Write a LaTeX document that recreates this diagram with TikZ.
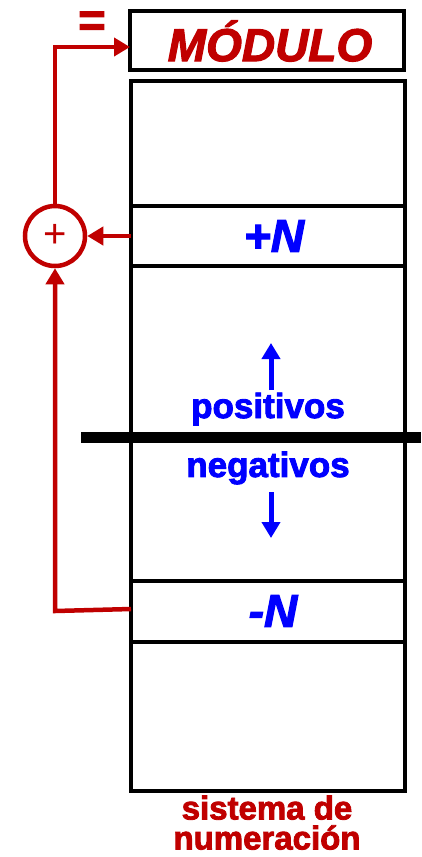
\documentclass[tikz,border=0pt]{standalone}
\usepackage{fontspec}
\setmainfont{Liberation Sans}
\newfontfamily\heavy[FakeBold=2.5]{Liberation Sans Bold}
\newfontfamily\heavyit[FakeBold=2.5]{Liberation Sans Bold Italic}
\usetikzlibrary{arrows.meta}
\definecolor{myred}{HTML}{C00000}
\definecolor{myblue}{HTML}{0000FF}
\begin{document}
\begin{tikzpicture}[x=1pt,y=-1pt,
  box/.style={draw=black,line width=4.6pt},
  redline/.style={draw=myred,line width=4.5pt,line join=miter},
  redarrow/.style={redline,-{Triangle[length=16pt,width=18pt]}},
  bluearrow/.style={draw=myblue,line width=5pt,-{Triangle[length=16pt,width=18pt]}},
  lbl/.style={font=\heavyit\fontsize{46}{46}\selectfont,inner sep=0pt},
  btxt/.style={font=\heavy\fontsize{35}{35}\selectfont,text=myblue,inner sep=0pt}]
\useasboundingbox (0,0) rectangle (421,857);
\fill[white] (0,0) rectangle (421,857);
% module box
\draw[box] (130,11) rectangle (404,70);
\node[lbl,text=myred] (mod) at (270,41) {MÓDULO};
\coordinate (modin) at (130,47);
% main box
\draw[box] (131,81) rectangle (405,791);
\draw[box] (131,206) rectangle (405,266);
\draw[box] (131,581) rectangle (405,642);
\node[lbl,text=myblue] (pN) at (274,236) {+N};
\node[lbl,text=myblue] (mN) at (273,611) {-N};
\coordinate (pNl) at (131,236);
\coordinate (mNl) at (131,609);
% separator
\draw[line width=11pt] (81,437.5) -- (421,437.5);
% texts
\node[btxt] (pos) at (268,409) {positivos};
\node[btxt] (neg) at (268,468) {negativos};
\coordinate (u1) at (271,390);
\coordinate (u2) at (271,343);
\coordinate (d1) at (271,492);
\coordinate (d2) at (271,538);
\draw[bluearrow] (u1) -- (u2);
\draw[bluearrow] (d1) -- (d2);
% adder
\node[circle,draw=myred,line width=4.5pt,minimum size=60pt,inner sep=0pt,
  font=\fontsize{40}{40}\selectfont,text=myred] (sum) at (55,236) {+};
\draw[redarrow] (pNl) -- (sum.east);
\draw[redarrow] (mNl) -- (55,611) -- (sum.south);
\draw[redarrow] (sum.north) -- (55,47) -- (modin);
\node[font=\heavy\fontsize{47}{47}\selectfont,text=myred,inner sep=0pt] (eq) at (92,24) {=};
% caption
\node[font=\heavy\fontsize{33}{30}\selectfont,text=myred,align=center,inner sep=0pt,anchor=south] (cap) at (267,850) {sistema de\\numeración};
\end{tikzpicture}
\end{document}
